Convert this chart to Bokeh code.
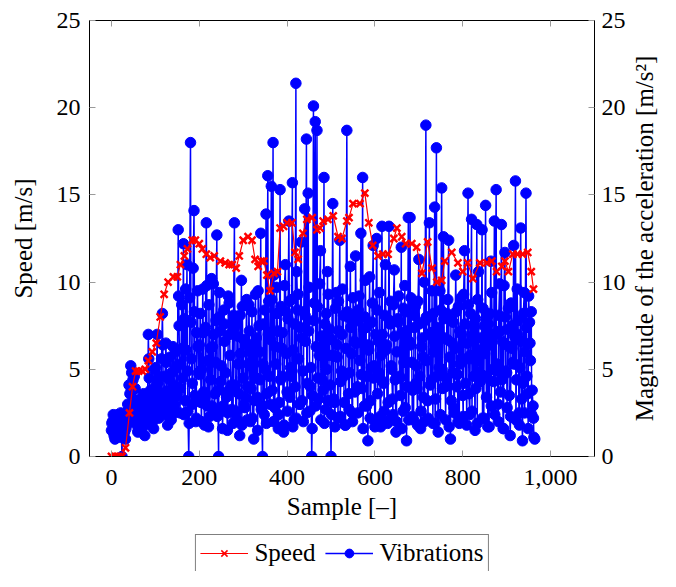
import numpy as np
from bokeh.plotting import figure
from bokeh.layouts import column, row
from bokeh.models import (Range1d, LinearAxis, Legend, LegendItem, Title,
                          NumeralTickFormatter, FixedTicker)
from bokeh.embed import file_html
from bokeh.resources import INLINE

# ---------------- data ----------------
speed_x = [0, 8, 16, 24, 32, 41, 48, 55, 62, 70, 77, 84, 93, 102, 111, 120, 129,
           141, 150, 157, 166, 173, 184, 191, 200, 207, 216, 225, 234, 248, 259,
           268, 275, 284, 291, 300, 311, 320, 327, 334, 341, 347, 354, 361, 370,
           378, 384, 392, 400, 411, 418, 425, 436, 445, 457, 468, 475, 482, 493,
           505, 516, 525, 536, 541, 550, 566, 577, 586, 595, 607, 618, 630, 643,
           650, 661, 670, 684, 695, 707, 720, 730, 741, 752, 759, 775, 789, 800,
           811, 823, 839, 855, 866, 877, 889, 896, 904, 914, 925, 936, 948, 956, 961]
speed = [0, 0, 0, 0, 0.5, 2.5, 4.0, 4.9, 4.9, 4.9, 5.0, 5.5, 6.0, 6.5, 8.0, 9.3,
         10.0, 10.3, 10.3, 11.0, 11.5, 11.9, 12.4, 12.4, 12.2, 11.9, 11.6, 11.4,
         11.5, 11.2, 11.1, 11.0, 11.0, 10.8, 11.5, 12.4, 12.6, 12.4, 11.3, 10.9,
         11.2, 11.2, 10.4, 9.5, 10.5, 10.6, 13.1, 13.2, 13.4, 13.4, 11.7, 11.3,
         12.8, 13.6, 13.7, 13.0, 13.1, 13.5, 13.6, 13.8, 12.6, 12.5, 13.5, 13.7,
         14.5, 14.5, 15.1, 13.4, 12.1, 11.5, 11.6, 11.6, 12.5, 13.1, 12.6, 12.2,
         12.2, 12.0, 10.5, 12.3, 10.8, 10.0, 10.1, 11.2, 11.7, 11.1, 10.6, 11.1,
         10.2, 11.1, 11.1, 11.2, 10.6, 10.9, 11.2, 10.6, 11.6, 11.6, 11.6, 11.7,
         10.6, 9.6]

# vibration magnitude at samples 0, 4, 8, ... 964
vib_a = [
    1.5, 2.4, 1.0, 2.0, 1.3, 2.2, 0.0, 1.8, 1.0, 2.6,
    4.1, 5.2, 3.0, 4.6, 2.0, 1.4, 3.3, 1.6, 2.8, 1.2,
    3.5, 7.0, 2.4, 3.6, 1.6, 4.0, 7.0, 2.2, 3.0, 8.2,
    2.6, 6.5, 1.8, 4.4, 2.1, 6.3, 3.0, 5.2, 13.0, 2.5,
    8.7, 12.2, 3.2, 11.0, 0.0, 18.0, 4.2, 14.1, 2.0, 9.5,
    6.4, 3.1, 9.6, 1.8, 13.4, 5.5, 2.3, 10.2, 9.9, 3.6,
    12.7, 0.0, 7.2, 2.6, 8.4, 4.8, 1.5, 8.8, 3.9, 7.6,
    13.4, 2.2, 6.9, 1.2, 10.1, 4.5, 2.8, 9.0, 5.3, 2.0,
    8.3, 1.0, 9.3, 3.4, 7.5, 12.8, 0.0, 2.4, 13.9, 16.1,
    4.6, 15.5, 18.0, 2.8, 9.7, 1.6, 15.3, 6.2, 1.4, 11.0,
    3.7, 13.5, 5.1, 15.7, 2.1, 21.4, 8.4, 3.0, 12.3, 4.9,
    14.2, 18.2, 15.1, 2.6, 0.0, 20.1, 19.2, 18.7, 3.3, 11.8,
    4.4, 16.0, 2.7, 10.6, 5.8, 0.0, 14.5, 3.1, 9.4, 2.2,
    12.4, 4.9, 8.1, 1.8, 18.7, 3.6, 10.9, 2.5, 7.7, 11.5,
    4.0, 9.2, 12.8, 16.0, 2.9, 7.4, 0.9, 10.3, 5.1, 12.1,
    1.7, 12.5, 6.6, 2.3, 13.2, 4.2, 11.0, 2.0, 13.2, 8.9,
    3.3, 10.7, 1.4, 7.9, 4.6, 12.0, 2.6, 9.8, 0.9, 13.7,
    13.7, 5.4, 2.1, 8.6, 3.9, 11.3, 1.6, 6.8, 10.0, 19.0,
    3.2, 13.4, 7.1, 1.9, 14.3, 17.7, 1.4, 9.5, 15.4, 12.6,
    4.0, 8.2, 12.4, 1.0, 6.5, 2.8, 10.4, 4.7, 1.9, 9.1,
    3.5, 11.8, 5.6, 15.1, 2.4, 13.6, 7.0, 1.5, 13.3, 10.6,
    4.3, 13.0, 2.2, 14.4, 8.0, 1.7, 11.2, 5.0, 13.5, 15.3,
    3.0, 9.9, 13.3, 1.6, 11.7, 4.8, 8.5, 1.2, 6.2, 12.1,
    15.8, 9.6, 2.5, 13.1, 0.9, 9.4, 15.1, 3.6, 7.7, 8.3,
    2.9, 1.0,
]
# vibration magnitude at samples 1, 5, 9, ... 961
vib_c = [
    1.9, 1.4, 2.2, 1.2, 1.8, 2.5, 1.3, 2.0, 1.6, 3.0,
    2.7, 3.9, 4.4, 2.3, 3.0, 1.5, 2.4, 2.2, 3.6, 1.8,
    2.2, 5.6, 3.8, 2.6, 3.5, 5.1, 2.9, 4.6, 3.3, 6.4,
    3.7, 5.4, 2.3, 3.2, 4.8, 2.8, 5.0, 4.0, 9.2, 3.9,
    6.2, 2.4, 9.6, 4.9, 1.9, 7.7, 3.0, 8.3, 2.2, 6.3,
    4.7, 2.0, 7.1, 3.4, 9.8, 1.7, 6.2, 2.9, 7.0, 5.4,
    2.3, 8.0, 4.3, 1.6, 7.6, 3.7, 2.5, 7.0, 4.1, 1.9,
    7.4, 2.6, 5.3, 8.1, 1.8, 6.7, 3.4, 2.1, 8.7, 6.0,
    2.2, 6.5, 4.5, 1.5, 6.0, 2.7, 5.3, 8.4, 1.9, 7.0,
    3.0, 9.0, 2.0, 6.3, 8.2, 2.4, 4.4, 7.1, 1.8, 8.3,
    2.6, 8.9, 4.6, 1.7, 7.6, 2.2, 9.3, 3.0, 6.8, 2.0,
    8.1, 2.5, 7.2, 4.0, 1.6, 7.8, 2.9, 8.6, 5.8, 2.1,
    6.9, 1.9, 8.2, 3.2, 7.3, 2.4, 5.8, 1.7, 6.4, 8.9,
    2.3, 7.0, 4.6, 1.8, 8.3, 2.7, 7.4, 2.0, 6.6, 8.2,
    2.5, 7.9, 4.7, 1.6, 8.0, 2.9, 6.4, 2.2, 7.7, 4.5,
    2.0, 8.4, 4.8, 1.7, 7.0, 2.6, 6.1, 1.9, 7.8, 5.2,
    2.4, 6.9, 2.0, 7.7, 4.5, 1.6, 8.5, 2.8, 7.2, 2.1,
    6.4, 2.3, 8.1, 4.2, 1.8, 7.6, 2.6, 5.7, 2.0, 8.0,
    2.2, 7.0, 4.4, 8.2, 1.9, 4.6, 7.4, 2.4, 5.0, 7.9,
    2.1, 6.7, 1.7, 7.8, 4.8, 2.5, 8.3, 2.0, 7.2, 5.6,
    2.3, 7.6, 1.8, 8.7, 5.8, 2.6, 4.6, 7.9, 1.9, 4.8,
    6.8, 2.2, 7.5, 4.6, 1.7, 8.2, 2.9, 7.0, 2.4, 4.9,
    2.0, 7.2, 4.4, 1.6, 8.0, 2.8, 6.3, 2.3, 7.5, 5.3,
    2.1, 7.0, 1.8, 6.6, 4.2, 2.5, 7.4, 1.6, 6.5, 2.4,
    2.2,
]
# vibration magnitude at samples 2, 6, 10, ... 962
vib_b = [
    2.0, 1.2, 1.7, 2.4, 1.1, 1.6, 2.1, 1.4, 2.3, 1.9,
    3.6, 4.8, 2.5, 3.9, 1.8, 2.6, 1.9, 3.2, 2.0, 3.4,
    2.8, 4.5, 3.1, 2.0, 5.0, 3.3, 4.2, 2.7, 5.6, 3.4,
    4.6, 2.9, 3.8, 5.7, 2.4, 4.1, 6.0, 3.5, 7.5, 5.3,
    4.5, 7.9, 6.1, 2.6, 9.1, 5.6, 10.8, 3.5, 7.1, 4.8,
    8.2, 5.0, 3.7, 7.4, 2.9, 8.7, 4.4, 6.3, 2.5, 7.8,
    3.8, 9.4, 5.2, 2.9, 6.6, 3.4, 9.2, 5.8, 2.7, 8.1,
    4.1, 7.7, 3.6, 5.9, 8.6, 3.0, 6.4, 4.0, 7.2, 3.9,
    5.5, 3.2, 6.8, 9.5, 4.4, 2.9, 7.6, 5.0, 3.6, 8.9,
    6.7, 3.8, 10.4, 5.3, 7.2, 3.1, 8.6, 4.6, 9.8, 5.9,
    7.9, 3.4, 9.0, 6.1, 4.0, 10.6, 5.6, 7.4, 3.2, 8.3,
    6.6, 4.2, 9.7, 5.1, 3.5, 8.8, 6.3, 4.5, 9.9, 6.9,
    3.8, 7.6, 5.0, 9.3, 4.1, 6.7, 3.3, 8.5, 5.7, 7.2,
    4.3, 9.6, 3.1, 6.2, 8.0, 4.8, 5.9, 9.1, 3.7, 6.5,
    8.4, 5.5, 3.9, 7.3, 10.1, 4.6, 6.1, 3.2, 8.8, 5.2,
    7.0, 3.6, 9.4, 5.8, 4.3, 8.1, 6.4, 3.1, 7.6, 5.0,
    8.7, 4.4, 6.0, 9.2, 3.5, 7.1, 5.4, 8.3, 4.0, 6.6,
    9.1, 3.8, 7.4, 5.2, 8.9, 4.6, 6.3, 3.4, 7.8, 5.5,
    8.0, 4.1, 9.5, 6.0, 3.3, 7.2, 5.1, 8.4, 3.9, 6.8,
    4.5, 9.0, 5.7, 3.2, 7.7, 6.2, 4.0, 8.6, 5.3, 7.0,
    9.3, 4.2, 6.5, 3.6, 8.2, 5.6, 7.4, 3.9, 9.0, 6.1,
    4.7, 8.5, 5.9, 3.4, 7.6, 6.4, 9.4, 4.3, 7.0, 5.3,
    8.1, 3.7, 6.6, 9.8, 4.9, 7.3, 3.5, 8.8, 5.4, 6.9,
    4.4, 7.8, 5.1, 3.3, 8.2, 6.0, 4.6, 9.2, 5.5, 3.8,
    1.1,
]

x_ticks = [0, 200, 400, 600, 800, 1000]
y_ticks = [0, 5, 10, 15, 20, 25]

# merge the three sample sets in sample order (0, 1, 2, 4, 5, 6, ...)
vib_x, vib = [], []
for i, a in enumerate(vib_a):
    vib_x.append(4 * i)
    vib.append(a)
    if i < len(vib_c):
        vib_x.append(4 * i + 1)
        vib.append(vib_c[i])
    if i < len(vib_b):
        vib_x.append(4 * i + 2)
        vib.append(vib_b[i])

FONT = "Liberation Serif"
TICK_SIZE = "24px"
LABEL_SIZE = "25px"
RED = "#ff0000"
BLUE = "#0000ff"

p = figure(width=628, height=534, output_backend="svg", toolbar_location=None,
           x_range=Range1d(-50, 1100), y_range=Range1d(0, 25),
           min_border_left=89, min_border_right=31, min_border_top=20,
           min_border_bottom=78, x_axis_label="Sample [–]",
           y_axis_label="Speed [m/s]")
p.extra_y_ranges = {"acc": Range1d(0, 25)}
p.grid.visible = False
p.outline_line_color = "black"
p.outline_line_width = 1
p.outline_line_alpha = 1
p.background_fill_color = "white"
p.border_fill_color = "white"


def style(ax, labels=True):
    ax.axis_line_color = "black"
    ax.major_tick_in = 6
    ax.major_tick_out = 0
    ax.major_tick_line_color = "#9a9a9a"
    ax.minor_tick_line_color = None
    ax.major_label_text_font = FONT
    ax.major_label_text_font_size = TICK_SIZE
    ax.major_label_text_color = "black"
    ax.axis_label_text_font = FONT
    ax.axis_label_text_font_size = LABEL_SIZE
    ax.axis_label_text_font_style = "normal"
    ax.axis_label_text_color = "black"
    if not labels:
        ax.major_label_text_font_size = "0px"
        ax.major_label_text_color = None
        ax.major_label_standoff = 0


xa = p.xaxis[0]
style(xa)
xa.ticker = FixedTicker(ticks=x_ticks)
xa.formatter = NumeralTickFormatter(format="0,0")
xa.major_label_standoff = 13
xa.axis_label_standoff = 5

ya = p.yaxis[0]
style(ya)
ya.ticker = FixedTicker(ticks=y_ticks)
ya.major_label_standoff = 9
ya.axis_label_standoff = 17

top = LinearAxis(ticker=FixedTicker(ticks=x_ticks))
style(top, labels=False)
p.add_layout(top, "above")

# right axis: ticks and numbers only; its title is set in the strip beside it
right = LinearAxis(y_range_name="acc", ticker=FixedTicker(ticks=y_ticks))
style(right)
right.major_label_standoff = 7
p.add_layout(right, "right")

# vibrations (blue) first, speed (red) on top
p.line(vib_x, vib, y_range_name="acc", line_color=BLUE, line_width=1.5)
p.scatter(vib_x, vib, y_range_name="acc", marker="circle", size=10.5,
          fill_color=BLUE, line_color=BLUE)
p.line(speed_x, speed, line_color=RED, line_width=1.2)
p.scatter(speed_x, speed, marker="x", size=10, line_color=RED, line_width=2.4)

# ---- legend strip below the chart (its series lie outside its view) ----
pl = figure(width=628, height=37, output_backend="svg", toolbar_location=None,
            x_range=Range1d(5000, 6000), y_range=Range1d(500, 600),
            x_axis_type=None, y_axis_type=None, min_border=0)
pl.grid.visible = False
pl.outline_line_color = None
pl.background_fill_color = "white"
pl.border_fill_color = "white"
l_sl = pl.line(speed_x, speed, line_color=RED, line_width=1.2)
l_sp = pl.scatter(speed_x, speed, marker="x", size=7, line_color=RED,
                  line_width=1.5)
l_vl = pl.line(vib_x, vib, line_color=BLUE, line_width=1.3)
l_vp = pl.scatter(vib_x, vib, marker="circle", size=10, fill_color=BLUE,
                  line_color=BLUE)

legend = Legend(items=[LegendItem(label="Speed", renderers=[l_sl, l_sp]),
                       LegendItem(label="Vibrations", renderers=[l_vl, l_vp])],
                orientation="horizontal", location="top_center",
                glyph_width=48, glyph_height=22, label_height=22,
                label_standoff=7, spacing=9, padding=4, margin=0,
                label_text_font=FONT, label_text_font_size=LABEL_SIZE,
                label_text_color="black",
                border_line_color="black", border_line_width=1,
                background_fill_color="white", background_fill_alpha=1)
pl.add_layout(legend)

# ---- narrow strip carrying the right axis title (reads bottom to top) ----
pr = figure(width=32, height=476, output_backend="svg", toolbar_location=None,
            x_range=Range1d(0, 1), y_range=Range1d(0, 1),
            x_axis_type=None, y_axis_type=None, min_border=0)
pr.grid.visible = False
pr.outline_line_color = None
pr.background_fill_color = "white"
pr.border_fill_color = "white"
pr.add_layout(Title(text="Magnitude of the acceleration [m/s²]", align="center",
                    text_font=FONT, text_font_size=LABEL_SIZE,
                    text_font_style="normal", text_color="black",
                    standoff=0), "left")

layout = row(column(p, pl, spacing=0), pr, spacing=0)
open("out.html", "w").write(file_html(layout, INLINE))
